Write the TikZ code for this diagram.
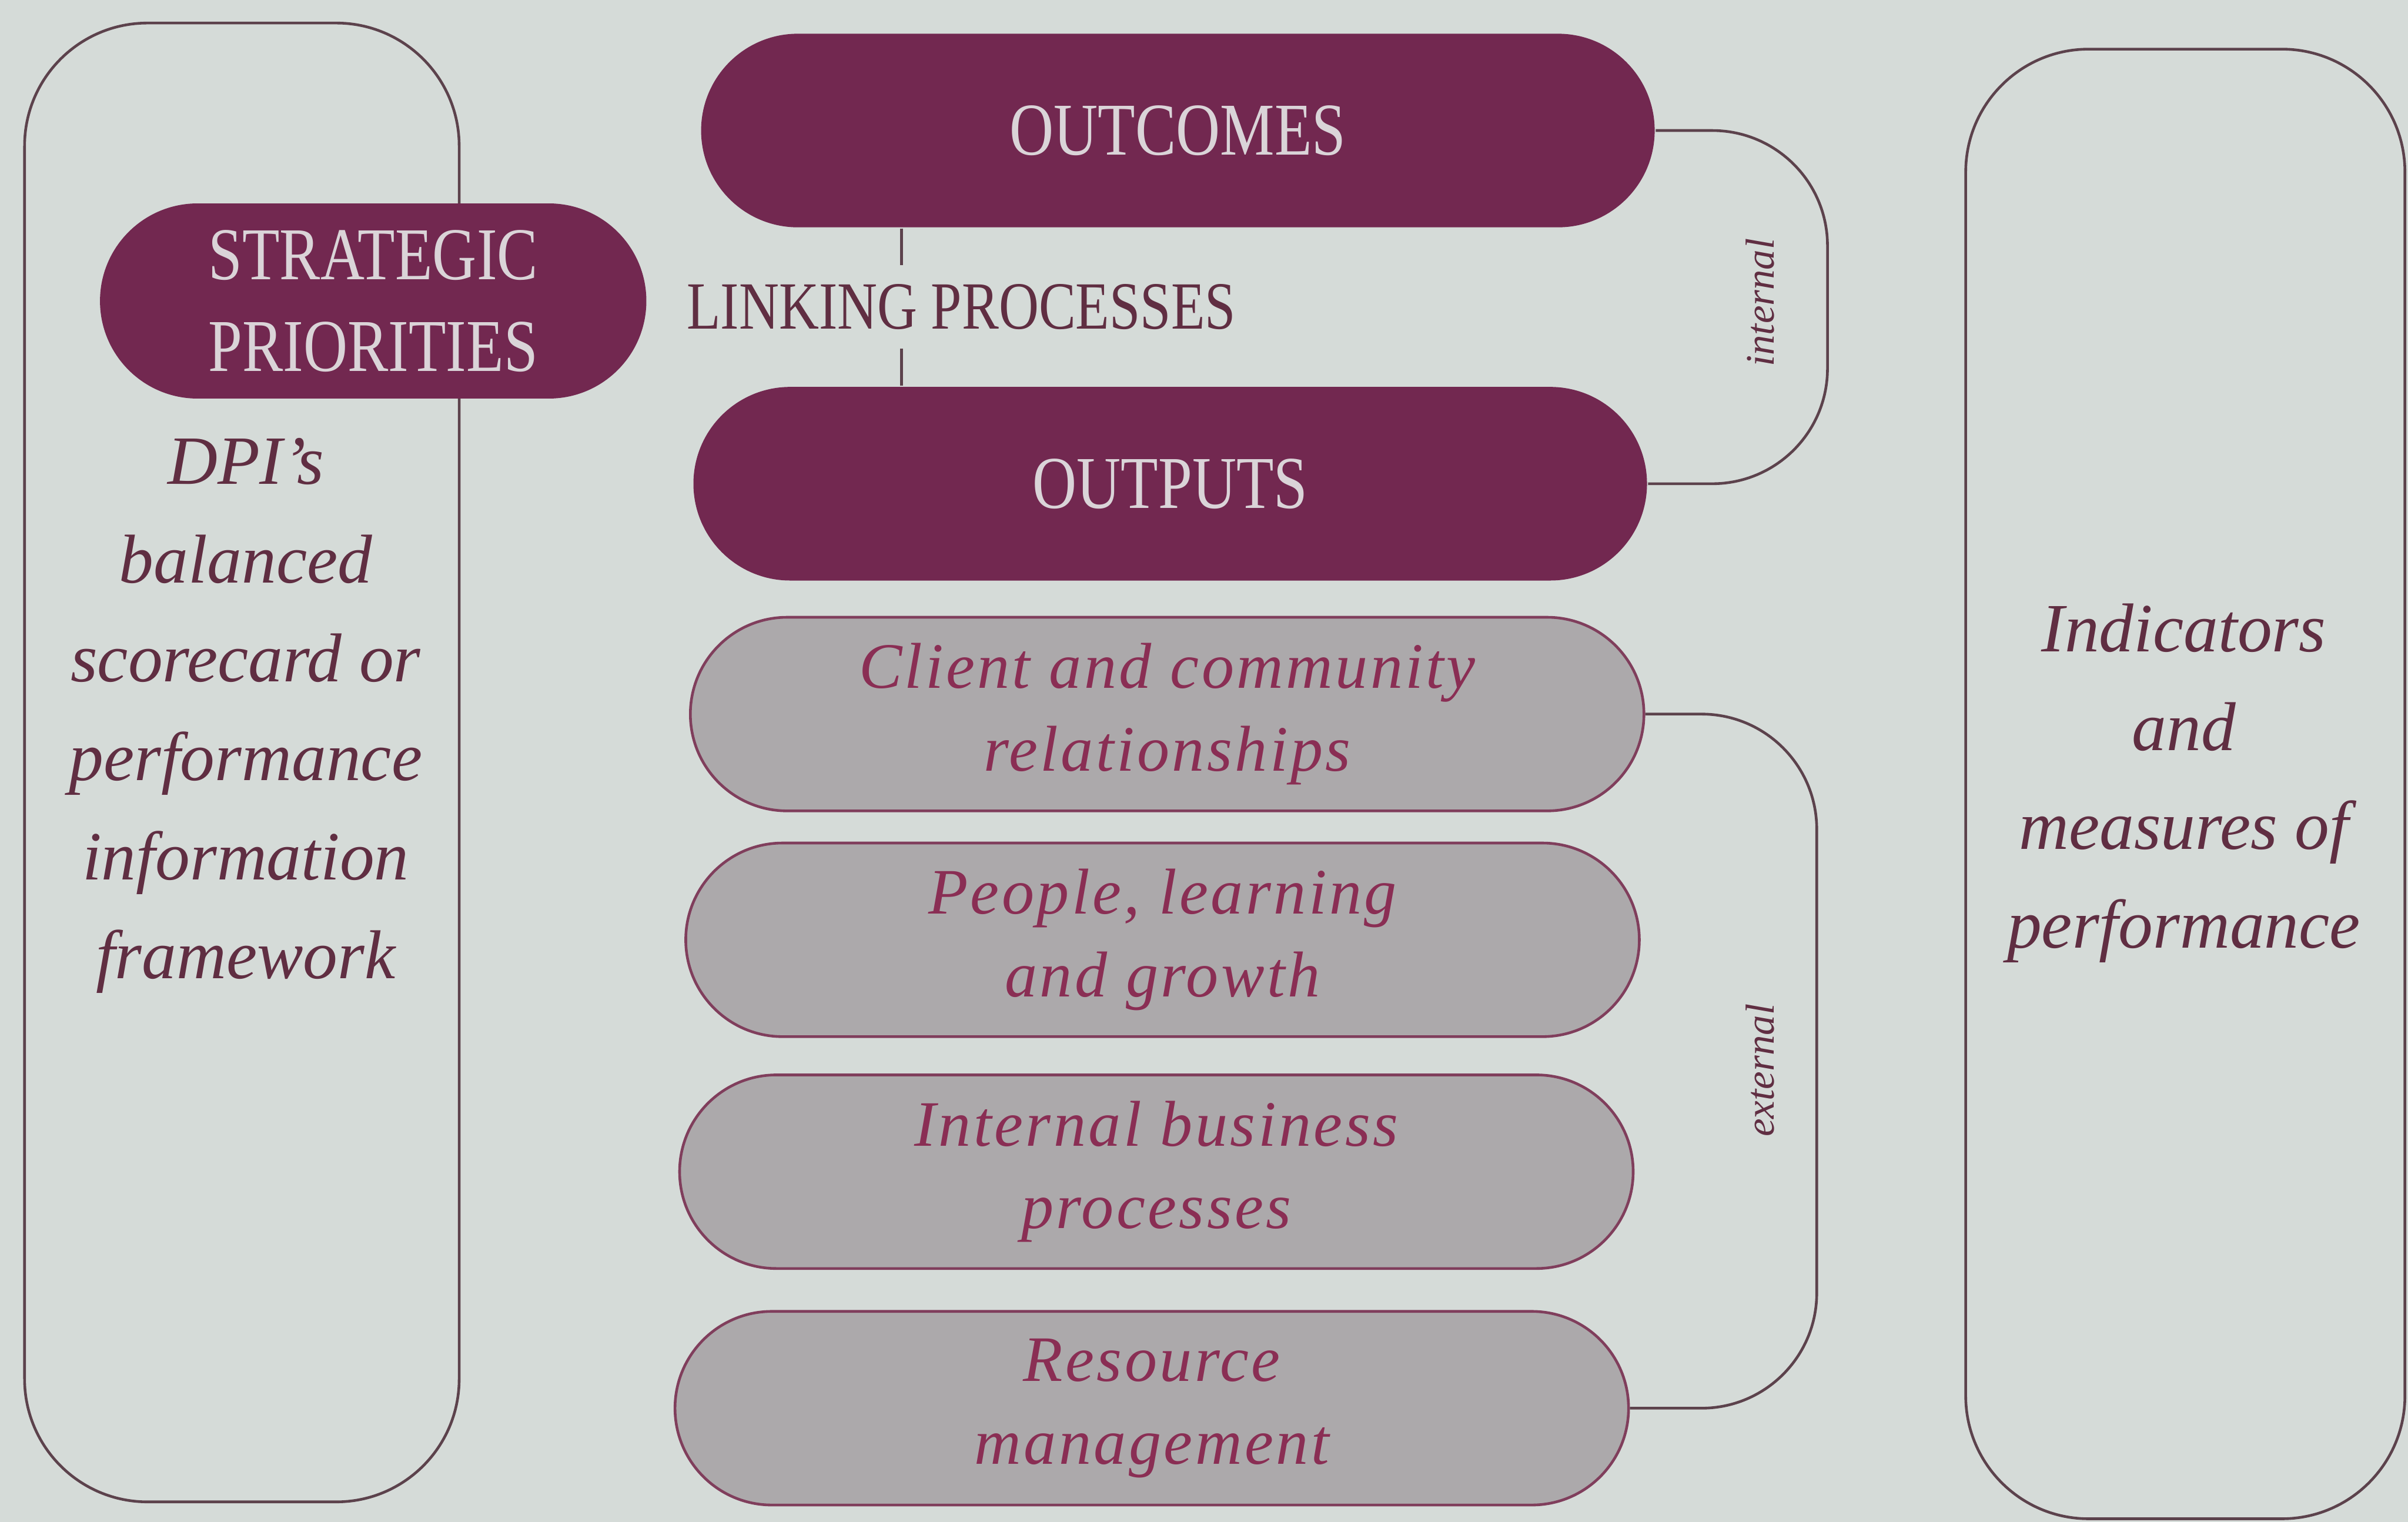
\documentclass[tikz,border=0pt]{standalone}
\usepackage{fontspec}
\setmainfont{Liberation Serif}
\newfontfamily\capsfont[FakeStretch=0.82]{Liberation Serif}
\newfontfamily\pillfont[LetterSpace=4]{Liberation Serif}
\usetikzlibrary{shapes.misc, positioning, calc}

\definecolor{paper}{RGB}{213, 219, 216}
\definecolor{dpimaroon}{RGB}{114, 40, 80}
\definecolor{pilltext}{RGB}{218, 212, 216}
\definecolor{pillgrey}{RGB}{172, 169, 171}
\definecolor{pilledge}{RGB}{128, 62, 92}
\definecolor{pillink}{RGB}{138, 46, 84}
\definecolor{sideink}{RGB}{96, 46, 66}
\definecolor{lineink}{RGB}{92, 66, 76}

\begin{document}
\begin{tikzpicture}[x=0.01cm, y=-0.01cm,
  darkpill/.style={rounded rectangle, fill=dpimaroon, text=pilltext, minimum width=6.44cm, minimum height=1.26cm, align=center, font=\capsfont\fontsize{13.8}{17}\selectfont},
  greypill/.style={rounded rectangle, draw=pilledge, line width=0.5pt, fill=pillgrey, text=pillink, minimum width=6.44cm, minimum height=1.26cm, align=center, font=\pillfont\itshape\fontsize{12}{15.3}\selectfont},
  sidetext/.style={align=center, text=sideink, font=\itshape\fontsize{12.8}{18.3}\selectfont},
  outline/.style={draw=lineink, line width=0.5pt, rounded corners=0.8cm},
  bracket/.style={draw=lineink, line width=0.5pt, rounded corners=0.75cm},
  sidelabel/.style={text=sideink, rotate=90, font=\itshape\fontsize{7.5}{9}\selectfont}]

  % page
  \fill[paper] (0,0) rectangle (1568,991);

  % side frames
  \draw[outline] (16,15) rectangle (299,978);
  \draw[outline] (1280,32) rectangle (1566,989);

  % left column
  \node[darkpill, minimum width=3.79cm, minimum height=1.27cm] (priorities) at (243,196) {STRATEGIC\\PRIORITIES};
  \node[sidetext] (scorecard) at (160,466) {DPI's\\balanced\\scorecard or\\performance\\information\\framework};

  % centre column
  \node[darkpill] (outcomes) at (767,85) {OUTCOMES};
  \node[darkpill] (outputs) at (762,315) {OUTPUTS};
  \node[text=sideink, font=\capsfont\fontsize{12.5}{15}\selectfont] (linking) at (626,200) {LINKING PROCESSES};

  \node[greypill] (client) at (760,465) {Client and community\\relationships};
  \node[greypill] (people) at (757,612) {People, learning\\and growth};
  \node[greypill] (business) at (753,763) {Internal business\\processes};
  \node[greypill] (resource) at (750,917) {Resource\\management};

  % ticks above and below the linking label
  \coordinate (linkx) at (587,0);
  \draw[draw=lineink, line width=0.5pt] (outcomes.south -| linkx) -- (linking.north -| linkx);
  \draw[draw=lineink, line width=0.5pt] (linking.south -| linkx) -- (outputs.north -| linkx);

  % brackets on the right of the centre column
  \coordinate (intx) at (1190,0);
  \coordinate (extx) at (1183,0);
  \draw[bracket] (outcomes.east) -- (outcomes.east -| intx) |- (outputs.east);
  \draw[bracket] (client.east) -- (client.east -| extx) |- (resource.east);
  \node[sidelabel] (internal) at (1146,197) {internal};
  \node[sidelabel] (external) at (1146,697) {external};

  % right column
  \node[sidetext] (indicators) at (1422,510) {Indicators\\and\\measures of\\performance};
\end{tikzpicture}
\end{document}
